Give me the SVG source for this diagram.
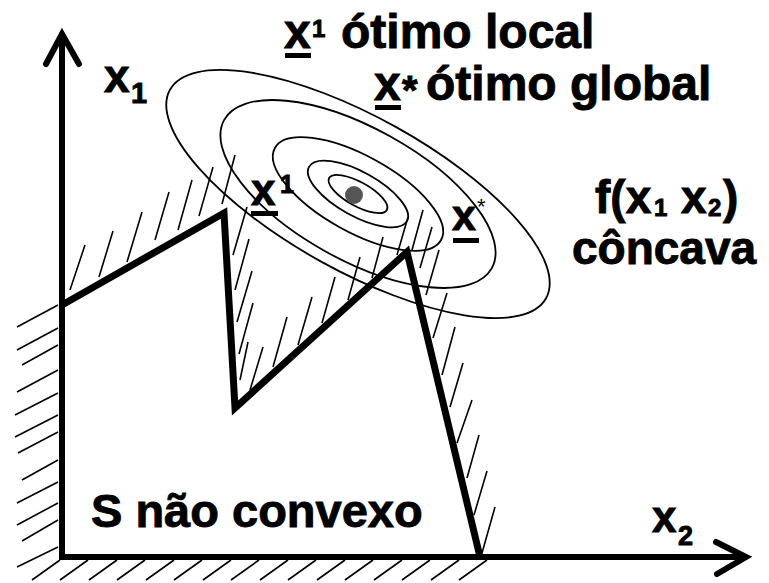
<svg xmlns="http://www.w3.org/2000/svg" width="769" height="583" viewBox="0 0 769 583">
<style>
.t{font-family:"Liberation Sans",Arial,sans-serif;font-weight:bold;fill:#000;stroke:#000;stroke-width:0.9}
.h{stroke:#000;stroke-width:1.6;fill:none;stroke-linecap:butt}
.e{stroke:#000;stroke-width:1.8;fill:none}
.ax{stroke:#000;stroke-width:6;fill:none;stroke-linecap:round;stroke-linejoin:miter}
</style>
<rect width="769" height="583" fill="#fff"/>
<g id="contours">
<g transform="translate(358,194) rotate(29)">
<ellipse class="e" rx="215" ry="77"/>
<ellipse class="e" rx="153" ry="66"/>
<ellipse class="e" rx="95" ry="38"/>
<ellipse class="e" rx="56" ry="22"/>
<ellipse class="e" rx="33" ry="12"/>
</g>
<circle cx="354" cy="195" r="9" fill="#555"/>
</g>
<g id="hatching">
<path class="h" d="M58,305L17,327M58,328L17,350M58,345L22,365M58,370L17,392M58,393L15,415M58,415L15,437M58,432L18,453M58,460L22,480M58,482L17,503M58,503L17,525M58,520L22,541M58,547L17,567"/>
<path class="h" d="M60,560L32,580M88,560L60,580M117,560L89,580M145,560L117,580M174,560L146,580M202,560L174,580M231,560L203,580M259,560L231,580M288,560L260,580M316,560L288,580M345,560L317,580M373,560L345,580M402,560L374,580M430,560L402,580M459,560L431,580M487,560L459,580"/>
<path class="h" d="M70,290L85,245M99,277L113,231M127,262L142,212M155,240L169,192M178,230L192,180M199,216L213,167M222,204L235,155"/>
<path class="h" d="M233,255L247,207M235,290L249,239M237,322L252,271M239,354L253,303M240,380L248,342M250,390L263,347"/>
<path class="h" d="M273,367L287,317M298,345L312,297M322,323L335,277M348,300L360,257M372,278L383,237M397,255L408,217"/>
<path class="h" d="M412,250L423,210M420,268L432,227M426,295L439,250M433,338L447,293M442,375L455,327M450,407L463,363M457,443L472,400M467,478L479,435M474,515L487,471M482,553L495,507"/>
</g>
<g id="region">
<polyline points="62,305 224,213 235,408 407,252 480,557" fill="none" stroke="#000" stroke-width="7" stroke-linejoin="miter"/>
</g>
<g id="axes">
<line class="ax" x1="62" y1="36" x2="62" y2="560" style="stroke-linecap:butt"/>
<line class="ax" x1="59" y1="557" x2="744" y2="557" style="stroke-linecap:butt"/>
<polyline class="ax" points="46,64 62,34 79,64"/>
<polyline class="ax" points="716,542 746,557 717,574"/>
</g>
<g id="labels">
<text class="t" x="284" y="48" font-size="48">x</text>
<rect x="285" y="53" width="26" height="5"/>
<text class="t" x="312" y="37" font-size="24">1</text>
<text class="t" x="341" y="48" font-size="48">ótimo local</text>
<text class="t" x="374" y="100" font-size="48">x</text>
<rect x="375" y="105" width="26" height="5"/>
<text class="t" x="402" y="104" font-size="40">*</text>
<text class="t" x="426" y="100" font-size="48">ótimo global</text>
<text class="t" x="104" y="92" font-size="46">x</text>
<text class="t" x="131" y="103" font-size="29">1</text>
<text class="t" x="251" y="205" font-size="44">x</text>
<rect x="251" y="211" width="27" height="5"/>
<text class="t" x="280" y="193" font-size="25">1</text>
<text class="t" x="452" y="230" font-size="43">x</text>
<rect x="453" y="238" width="26" height="5"/>
<text x="477" y="214" font-size="22" style="font-family:'Liberation Sans',Arial,sans-serif">*</text>
<text class="t" x="595" y="213" font-size="46">f(x</text>
<text class="t" x="654" y="216" font-size="24">1</text>
<text class="t" x="681" y="213" font-size="46">x</text>
<text class="t" x="708" y="216" font-size="24">2</text>
<text class="t" x="723" y="213" font-size="46">)</text>
<text class="t" x="572" y="264" font-size="46">côncava</text>
<text class="t" x="91" y="527" font-size="47">S não convexo</text>
<text class="t" x="652" y="532" font-size="44">x</text>
<text class="t" x="678" y="545" font-size="27">2</text>
</g>
</svg>
